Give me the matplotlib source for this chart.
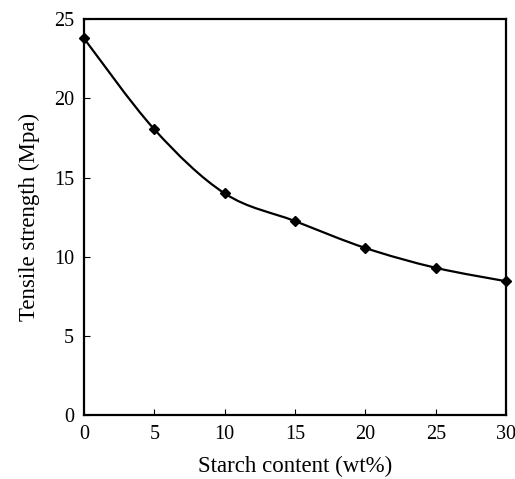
import matplotlib
matplotlib.use("Agg")
import matplotlib.pyplot as plt
from matplotlib.path import Path
from matplotlib.patches import PathPatch
import numpy as np

starch = [0, 5, 10, 15, 20, 25, 30]
tensile = [23.8, 18.05, 14.0, 12.25, 10.55, 9.3, 8.45]
xticks = [0, 5, 10, 15, 20, 25, 30]
yticks = [0, 5, 10, 15, 20, 25]

plt.rcParams['font.family'] = ['Liberation Serif', 'DejaVu Serif']

fig = plt.figure(figsize=(5.15, 4.79), dpi=100)
ax = fig.add_axes([0.163, 0.1336, 0.82, 0.826])

# smoothed line (Catmull-Rom style Bezier, as in spreadsheet "smoothed line")
x = np.array(starch, float)
y = np.array(tensile, float)
verts = [(x[0], y[0])]
codes = [Path.MOVETO]
n = len(x)
for i in range(n - 1):
    p0 = (x[max(i - 1, 0)], y[max(i - 1, 0)])
    p1 = (x[i], y[i])
    p2 = (x[i + 1], y[i + 1])
    p3 = (x[min(i + 2, n - 1)], y[min(i + 2, n - 1)])
    c1 = (p1[0] + (p2[0] - p0[0]) / 6, p1[1] + (p2[1] - p0[1]) / 6)
    c2 = (p2[0] - (p3[0] - p1[0]) / 6, p2[1] - (p3[1] - p1[1]) / 6)
    verts += [c1, c2, p2]
    codes += [Path.CURVE4] * 3
ax.add_patch(PathPatch(Path(verts, codes), fill=False, edgecolor='black', lw=1.6, clip_on=False))
ax.plot(starch, tensile, linestyle='none', marker='D', markersize=5, color='black', clip_on=False, zorder=3)

ax.set_xlim(0, 30)
ax.set_ylim(0, 25)
ax.set_xticks(xticks)
ax.set_yticks(yticks)
ax.tick_params(direction='in', length=4, labelsize=14.5, pad=7)
for s in ax.spines.values():
    s.set_linewidth(1.6)
ax.set_xlabel('Starch content (wt%)', fontsize=16.5, labelpad=9)
ax.set_ylabel('Tensile strength (Mpa)', fontsize=16.5, labelpad=10)

fig.savefig('out.png', dpi=100)
